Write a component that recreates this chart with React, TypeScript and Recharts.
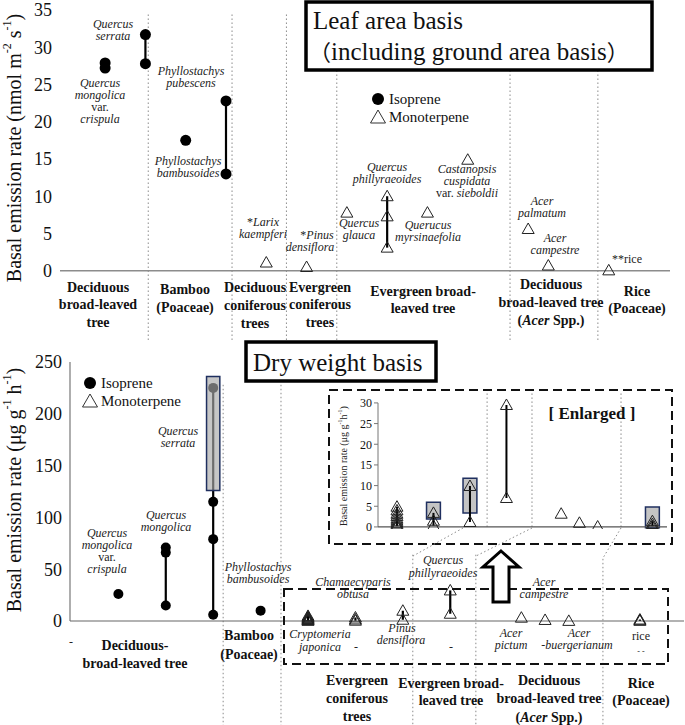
import React from "react";
import { ScatterChart, Scatter, XAxis, YAxis, ReferenceLine, ReferenceArea } from "recharts";

const SERIF = "Liberation Serif, DejaVu Serif, serif";
const CJK = "Noto Sans CJK JP, Noto Sans CJK SC, serif";

// ---------- Leaf area basis (nmol m-2 s-1) ----------
const leafIsoSlots = [1, 2, 3, 4];
const leafIsoValues = [[27.9, 27.2], [31.7, 27.8], [17.5], [22.8, 13.0]];
const leafMonoSlots = [5, 6, 7, 8, 9, 10, 11.5, 12, 13.5];
const leafMonoValues = [[1.1], [0.5], [7.8], [10.0, 7.3, 3.1], [7.8], [14.9], [5.6], [0.7], [0.05]];
const leafTicks = [0, 5, 10, 15, 20, 25, 30, 35];
const leafDividers = [2.07, 4.15, 5.5, 6.75, 11.05, 13.23];

// ---------- Dry weight basis (ug g-1 h-1) ----------
const dryIsoSlots = [1, 2, 3, 4];
const dryIsoValues = [[26], [71, 66, 15], [225, 115, 79, 6], [10]];
const dryMonoSlots = [5, 6, 7, 8, 9.5, 10, 10.5, 12];
const dryMonoValues = [
  [0.2, 0.6, 1.0, 1.5, 2.0, 2.6, 3.2, 4.0, 4.9],
  [0.3, 1.5, 3.4],
  [1.2, 9.9],
  [7.0, 29.5],
  [3.2],
  [1.0],
  [0.1],
  [0.2, 0.7, 1.4],
];
const dryTicks = [0, 50, 100, 150, 200, 250];
const dryDividers = [3.21, 4.43, 7.21, 8.54, 11.22];
const dryDividerTops = [228, 228, 64, 64, 60];
// ranges shown as grey boxes
const dryIsoBoxSlots = [3];
const dryIsoBoxRange = [[126, 236]];
const insetBoxSlots = [6, 7, 12];
const insetBoxRange = [[1.9, 6.0], [3.4, 11.8], [-0.2, 4.8]];
const insetTicks = [0, 5, 10, 15, 20, 25, 30];
const insetDividers = [7.47, 8.7, 11.14];

type P = { x: number; y: number };
const toPoints = (slots: number[], vals: number[][]): P[] =>
  slots.flatMap((s, i) => vals[i].map((v) => ({ x: s, y: v })));
const toRanges = (slots: number[], vals: number[][]): P[][] =>
  slots
    .map((s, i) => ({ s, v: vals[i] }))
    .filter((o) => o.v.length > 1)
    .map((o) => [
      { x: o.s, y: Math.min(...o.v) },
      { x: o.s, y: Math.max(...o.v) },
    ]);

const dot = (r: number) => (p: any) => <circle cx={p.cx} cy={p.cy} r={r} fill="#000" />;
const tri = (p: any) => (
  <path
    d={`M${p.cx},${p.cy - 6} L${p.cx + 6},${p.cy + 4.5} L${p.cx - 6},${p.cy + 4.5} Z`}
    fill="none"
    stroke="#222"
    strokeWidth={1}
  />
);
const none = () => <g />;

const tickStyle = (size: number) => ({ fill: "#111", fontSize: size, fontFamily: SERIF });
const DIV = { stroke: "#8a8a8a", strokeDasharray: "1.5 2.5", strokeWidth: 1 };

type Seg = string | [string, boolean][];
function Lbl({
  x, y, lines, size = 12, lh = 12, bold = false, italic = true, fill = "#222",
}: { x: number; y: number; lines: Seg[]; size?: number; lh?: number; bold?: boolean; italic?: boolean; fill?: string }) {
  return (
    <text textAnchor="middle" fontFamily={SERIF} fontSize={size} fontWeight={bold ? "bold" : "normal"} fill={fill}>
      {lines.map((ln, i) => (
        <tspan key={i} x={x} y={y + i * lh + size * 0.34}>
          {typeof ln === "string" ? (
            <tspan fontStyle={italic ? "italic" : "normal"}>{ln}</tspan>
          ) : (
            ln.map(([t, it], j) => (
              <tspan key={j} fontStyle={it ? "italic" : "normal"}>{t}</tspan>
            ))
          )}
        </tspan>
      ))}
    </text>
  );
}

const triPath = (cx: number, cy: number, s = 1) =>
  `M${cx},${cy - 7 * s} L${cx + 7.5 * s},${cy + 6 * s} L${cx - 7.5 * s},${cy + 6 * s} Z`;

function Overlay() {
  const cat = { bold: true, italic: false, size: 14, fill: "#111" };
  return (
    <svg width={685} height={725} style={{ position: "absolute", left: 0, top: 0, pointerEvents: "none" }}>
      {/* ---- top title ---- */}
      <rect x={306} y={2} width={346} height={68} fill="#fff" stroke="#000" strokeWidth={3.5} />
      <text fontFamily={SERIF} fontSize={25} fill="#111">
        <tspan x={313} y={29}>Leaf area basis</tspan>
        <tspan x={309} y={60}><tspan fontFamily={CJK} fontSize={22}>（</tspan>including ground area basis<tspan fontFamily={CJK} fontSize={22}>）</tspan></tspan>
      </text>
      {/* y title top */}
      <text transform="translate(14,148) rotate(-90)" textAnchor="middle" dominantBaseline="central" fontFamily={SERIF} fontSize={20} fill="#111">
        Basal emission rate (nmol m<tspan dy={-7} fontSize={12}>-2</tspan><tspan dy={7}> s</tspan><tspan dy={-7} fontSize={12}>-1</tspan><tspan dy={7}>)</tspan>
      </text>
      {/* legend top */}
      <circle cx={378} cy={99} r={6} fill="#000" />
      <path d={triPath(378, 117)} fill="#fff" stroke="#333" strokeWidth={1} />
      <text fontFamily={SERIF} fontSize={15} fill="#111">
        <tspan x={389} y={104}>Isoprene</tspan>
        <tspan x={389} y={122}>Monoterpene</tspan>
      </text>
      {/* species labels top */}
      <Lbl x={113} y={24} lh={12} lines={["Quercus", "serrata"]} />
      <Lbl x={100} y={83} lh={12} lines={["Quercus", "mongolica", [["var.", false]], "crispula"]} />
      <Lbl x={191} y={71} lh={12} lines={["Phyllostachys", "pubescens"]} />
      <Lbl x={188} y={161} lh={12} lines={["Phyllostachys", "bambusoides"]} />
      <Lbl x={263} y={222} lh={12} lines={[[["*", false], ["Larix", true]], "kaempferi"]} />
      <Lbl x={317} y={235} lines={[[["*", false], ["Pinus", true]]]} />
      <Lbl x={310} y={247} lines={["densiflora"]} />
      <Lbl x={359} y={223} lh={12} lines={["Quercus", "glauca"]} />
      <Lbl x={387} y={167} lh={12} lines={["Quercus", "phillyraeoides"]} />
      <Lbl x={428} y={225} lh={12} lines={["Querucus", "myrsinaefolia"]} />
      <Lbl x={467} y={169} lh={12} lines={["Castanopsis", "cuspidata", [["var. ", false], ["sieboldii", true]]]} />
      <Lbl x={542} y={201} lh={12} lines={["Acer", "palmatum"]} />
      <Lbl x={555} y={238} lh={12} lines={["Acer", "campestre"]} />
      <Lbl x={627} y={259} italic={false} lines={["**rice"]} />
      {/* categories top */}
      <Lbl x={98} y={287} lh={17.5} {...cat} lines={["Deciduous", "broad-leaved", "tree"]} />
      <Lbl x={185} y={289} lh={18} {...cat} lines={["Bamboo", "(Poaceae)"]} />
      <Lbl x={255} y={287} lh={18} {...cat} lines={["Deciduous", "coniferous", "trees"]} />
      <Lbl x={320} y={287} lh={17.5} {...cat} lines={["Evergreen", "coniferous", "trees"]} />
      <Lbl x={423} y={291} lh={17.5} {...cat} lines={["Evergreen broad-", "leaved tree"]} />
      <Lbl x={551} y={284} lh={18} {...cat} lines={["Deciduous", "broad-leaved tree", [["(", false], ["Acer", true], [" Spp.)", false]]]} />
      <Lbl x={637} y={291} lh={17.5} {...cat} lines={["Rice", "(Poaceae)"]} />

      {/* ---- bottom title ---- */}
      <rect x={246} y={342} width={190} height={39} fill="#fff" stroke="#000" strokeWidth={3.5} />
      <text x={253} y={371} fontFamily={SERIF} fontSize={25} fill="#111">Dry weight basis</text>
      <text transform="translate(14,490) rotate(-90)" textAnchor="middle" dominantBaseline="central" fontFamily={SERIF} fontSize={20} fill="#111">
        Basal emission rate (μg g<tspan dy={-7} fontSize={12}>-1</tspan><tspan dy={7}> h</tspan><tspan dy={-7} fontSize={12}>-1</tspan><tspan dy={7}>)</tspan>
      </text>
      <circle cx={90} cy={383} r={6} fill="#000" />
      <path d={triPath(90, 401)} fill="#fff" stroke="#333" strokeWidth={1} />
      <text fontFamily={SERIF} fontSize={15} fill="#111">
        <tspan x={101} y={388}>Isoprene</tspan>
        <tspan x={101} y={406}>Monoterpene</tspan>
      </text>
      {/* species labels bottom */}
      <Lbl x={107} y={533} lh={12} lines={["Quercus", "mongolica", [["var.", false]], "crispula"]} />
      <Lbl x={166} y={515} lh={12} lines={["Quercus", "mongolica"]} />
      <Lbl x={178} y={431} lh={12} lines={["Quercus", "serrata"]} />
      <Lbl x={258} y={567} lh={12} lines={["Phyllostachys", "bambusoides"]} />
      <Lbl x={353} y={582} lh={12} lines={["Chamaecyparis", "obtusa"]} />
      <Lbl x={320} y={634} lh={13} lines={["Cryptomeria", "japonica"]} />
      <Lbl x={356} y={647} lines={["-"]} />
      <Lbl x={402} y={628} lines={["Pinus"]} />
      <Lbl x={401} y={640} lines={["densiflora"]} />
      <Lbl x={451} y={647} lines={["-"]} />
      <Lbl x={443} y={560} lh={13} lines={["Quercus", "phillyraeoides"]} />
      <Lbl x={544} y={582} lh={12} lines={["Acer", "campestre"]} />
      <Lbl x={511} y={633} lh={12} lines={["Acer", "pictum"]} />
      <Lbl x={579} y={633} lines={["Acer"]} />
      <Lbl x={577} y={645} lines={["-buergerianum"]} />
      <Lbl x={641} y={636} italic={false} lines={["rice"]} />
      <Lbl x={641} y={651} italic={false} size={8} lines={["- -"]} />
      {/* categories bottom */}
      <Lbl x={71} y={642} italic={false} size={12} lines={["-"]} />
      <Lbl x={135} y={645} lh={18} {...cat} lines={["Deciduous-", "broad-leaved tree"]} />
      <Lbl x={249} y={635} lh={19} {...cat} lines={["Bamboo", "(Poaceae)"]} />
      <Lbl x={357} y={680} lh={18} {...cat} lines={["Evergreen", "coniferous", "trees"]} />
      <Lbl x={451} y={683} lh={17.5} {...cat} lines={["Evergreen broad-", "leaved tree"]} />
      <Lbl x={549} y={680} lh={18.5} {...cat} lines={["Deciduous", "broad-leaved tree", [["(", false], ["Acer", true], [" Spp.)", false]]]} />
      <Lbl x={641} y={683} lh={17.5} {...cat} lines={["Rice", "(Poaceae)"]} />

      {/* dashed boxes */}
      <rect x={284} y={589} width={384} height={75} fill="none" stroke="#111" strokeWidth={2} strokeDasharray="9 5" />
      <rect x={329} y={390} width={343} height={154} fill="none" stroke="#111" strokeWidth={2} strokeDasharray="9 5" />
      {/* inset texts */}
      <text x={592} y={419} textAnchor="middle" fontFamily={SERIF} fontSize={17} fontWeight="bold" fill="#111">[ Enlarged ]</text>
      <text transform="translate(343,466) rotate(-90)" textAnchor="middle" dominantBaseline="central" fontFamily={SERIF} fontSize={10} fill="#222">
        Basal emission rate (μg g<tspan dy={-3} fontSize={6}>-1</tspan><tspan dy={3}>h</tspan><tspan dy={-3} fontSize={6}>-1</tspan><tspan dy={3}>)</tspan>
      </text>
      {/* connectors */}
      <g {...DIV}>
        <line x1={463} y1={528} x2={413} y2={556} />
        <line x1={532} y1={528} x2={476} y2={556} />
        <line x1={621} y1={528} x2={603} y2={558} />
      </g>
      {/* big arrow */}
      <path d="M501,551 L519,567 L509,567 L509,602 L493,602 L493,567 L483,567 Z" fill="#fff" stroke="#000" strokeWidth={3} strokeLinejoin="miter" />
    </svg>
  );
}

export default function App() {
  const leafIso = toPoints(leafIsoSlots, leafIsoValues);
  const leafMono = toPoints(leafMonoSlots, leafMonoValues);
  const leafRanges = [...toRanges(leafIsoSlots, leafIsoValues), ...toRanges(leafMonoSlots, leafMonoValues)];
  const dryIso = toPoints(dryIsoSlots, dryIsoValues);
  const dryMono = toPoints(dryMonoSlots, dryMonoValues);
  const dryRanges = [...toRanges(dryIsoSlots, dryIsoValues), ...toRanges(dryMonoSlots, dryMonoValues)];
  const insetRanges = toRanges(dryMonoSlots, dryMonoValues);

  const bottomAxes = (showTicks: boolean) => [
    <XAxis key="x" type="number" dataKey="x" hide domain={[-0.02, 12.93]} allowDataOverflow />,
    <YAxis key="y" type="number" dataKey="y" width={70} domain={[-100.4, 250]} ticks={dryTicks} interval={0} allowDataOverflow axisLine={false} tickLine={false} tick={showTicks ? tickStyle(18) : false} />,
  ];

  return (
    <div style={{ position: "absolute", left: 0, top: 0, width: 685, height: 725, background: "#fff", overflow: "hidden" }}>
      {/* ---------- top chart ---------- */}
      <div style={{ position: "absolute", left: 0, top: 0 }}>
        <ScatterChart width={685} height={340} margin={{ top: 10, right: 15, bottom: 0, left: 0 }}>
          <XAxis type="number" dataKey="x" hide domain={[-0.12, 15.02]} allowDataOverflow />
          <YAxis type="number" dataKey="y" width={60} domain={[-9.3, 35]} ticks={leafTicks} interval={0} allowDataOverflow axisLine={false} tickLine={false} tick={tickStyle(18)} />
          {leafDividers.map((d) => (
            <ReferenceLine key={d} segment={[{ x: d, y: 34.4 }, { x: d, y: -9.3 }]} {...DIV} />
          ))}
          <ReferenceLine y={0} stroke="#8c8c8c" strokeWidth={1.5} />
          {leafRanges.map((r, i) => (
            <Scatter key={"lr" + i} data={r} line={{ stroke: "#000", strokeWidth: 2.2 }} shape={none} isAnimationActive={false} />
          ))}
          <Scatter data={leafIso} shape={dot(5.5)} isAnimationActive={false} />
          <Scatter data={leafMono} shape={tri} isAnimationActive={false} />
        </ScatterChart>
      </div>
      {/* ---------- bottom chart ---------- */}
      <div style={{ position: "absolute", left: 0, top: 340 }}>
        <ScatterChart width={685} height={385} margin={{ top: 22, right: 1, bottom: 0, left: 0 }}>
          {bottomAxes(true)}
          {dryDividers.map((d, i) => (
            <ReferenceLine key={d} segment={[{ x: d, y: dryDividerTops[i] }, { x: d, y: -100.4 }]} {...DIV} />
          ))}
          <ReferenceLine segment={[{ x: -0.02, y: 0 }, { x: -0.02, y: 250 }]} stroke="#777" strokeWidth={1.2} />
          <ReferenceLine y={0} stroke="#666" strokeWidth={1.2} />
          {dryRanges.map((r, i) => (
            <Scatter key={"dr" + i} data={r} line={{ stroke: "#000", strokeWidth: 2.2 }} shape={none} isAnimationActive={false} />
          ))}
          <Scatter data={dryIso} shape={dot(5)} isAnimationActive={false} />
          <Scatter data={dryMono} shape={tri} isAnimationActive={false} />
        </ScatterChart>
      </div>
      {/* ---------- bottom chart: translucent range box layer ---------- */}
      <div style={{ position: "absolute", left: 0, top: 340 }}>
        <ScatterChart width={685} height={385} margin={{ top: 22, right: 1, bottom: 0, left: 0 }}>
          {bottomAxes(false)}
          {dryIsoBoxSlots.map((s, i) => (
            <ReferenceArea key={"db" + s} x1={s - 0.14} x2={s + 0.14} y1={dryIsoBoxRange[i][0]} y2={dryIsoBoxRange[i][1]} fill="#a8a8a8" fillOpacity={0.65} stroke="#1f2f5f" strokeWidth={1.5} />
          ))}
        </ScatterChart>
      </div>
      {/* ---------- inset chart ---------- */}
      <div style={{ position: "absolute", left: 0, top: 380 }}>
        <ScatterChart width={685} height={160} margin={{ top: 13, right: 18, bottom: 11, left: 338 }}>
          <XAxis type="number" dataKey="x" hide domain={[4.48, 12.4]} allowDataOverflow />
          <YAxis type="number" dataKey="y" width={40} domain={[-0.5, 32.4]} ticks={insetTicks} interval={0} allowDataOverflow axisLine={false} tickLine={{ stroke: "#777" }} tickSize={4} tick={tickStyle(12)} />
          {insetDividers.map((d) => (
            <ReferenceLine key={d} segment={[{ x: d, y: 0 }, { x: d, y: 32.4 }]} {...DIV} />
          ))}
          <ReferenceLine segment={[{ x: 4.48, y: 0 }, { x: 4.48, y: 30 }]} stroke="#777" strokeWidth={1} />
          <ReferenceLine y={0} stroke="#555" strokeWidth={1.2} />
          {insetBoxSlots.map((s, i) => (
            <ReferenceArea key={"ib" + s} x1={s - 0.19} x2={s + 0.19} y1={insetBoxRange[i][0]} y2={insetBoxRange[i][1]} fill="#c4c4c4" fillOpacity={1} stroke="#1f2f5f" strokeWidth={1.5} ifOverflow="visible" />
          ))}
          {insetRanges.map((r, i) => (
            <Scatter key={"ir" + i} data={r} line={{ stroke: "#000", strokeWidth: 2 }} shape={none} isAnimationActive={false} />
          ))}
          <Scatter data={dryMono} shape={tri} isAnimationActive={false} />
        </ScatterChart>
      </div>
      <Overlay />
    </div>
  );
}
